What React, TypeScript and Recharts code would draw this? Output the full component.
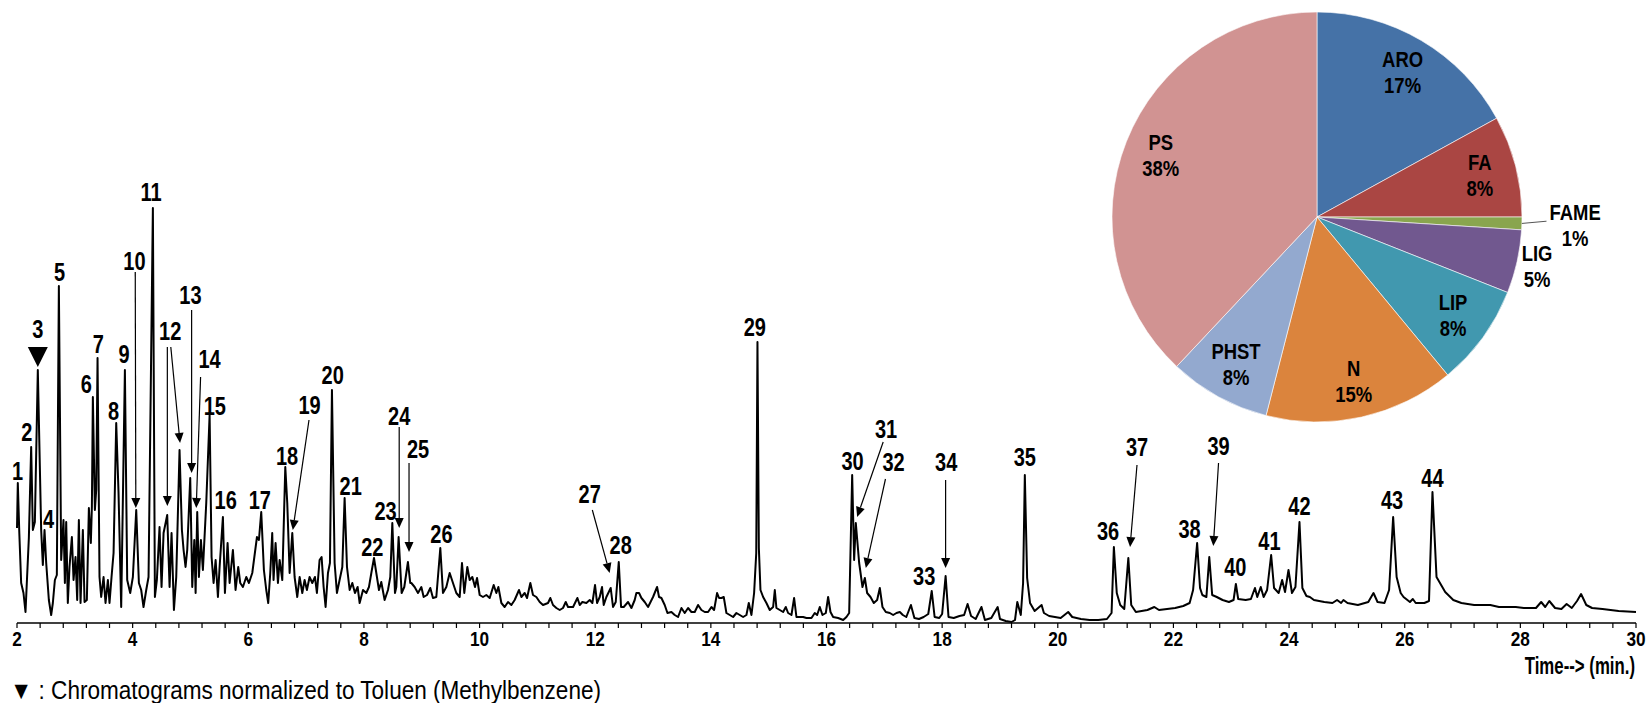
import React from 'react';
import { LineChart, Line, XAxis, YAxis, ReferenceLine, ReferenceDot, PieChart, Pie, Cell } from 'recharts';

const FONT = "'Liberation Sans', Arial, sans-serif";
const NARROW = 0.82;

// Chromatogram trace: [retention time (min), relative abundance]
const traceEarly: [number, number][] = [
  [2.0, 95], [2.014, 140], [2.04, 90], [2.072, 40], [2.112, 30], [2.147, 11], [2.205, 85], [2.245, 176],
  [2.274, 93], [2.309, 101], [2.36, 253], [2.418, 93], [2.447, 58], [2.476, 93], [2.505, 60], [2.551, 23],
  [2.591, 8], [2.62, 20], [2.655, 43], [2.689, 48], [2.724, 337], [2.764, 63], [2.804, 103], [2.828, 40],
  [2.851, 101], [2.879, 20], [2.908, 56], [2.949, 86], [2.978, 43], [3.012, 66], [3.041, 23], [3.07, 103],
  [3.099, 20], [3.139, 93], [3.168, 21], [3.208, 23], [3.243, 115], [3.277, 80], [3.295, 116], [3.312, 226],
  [3.347, 113], [3.37, 133], [3.393, 265], [3.427, 46], [3.456, 26], [3.497, 46], [3.531, 20], [3.572, 43],
  [3.6, 20], [3.635, 46], [3.67, 70], [3.716, 200], [3.756, 130], [3.802, 16], [3.866, 253], [3.906, 43],
  [3.958, 30], [4.004, 46], [4.062, 113], [4.108, 40], [4.148, 33], [4.188, 16], [4.235, 33], [4.275, 46],
  [4.35, 415], [4.385, 26], [4.419, 43], [4.465, 96], [4.5, 36], [4.535, 90], [4.598, 108], [4.639, 36],
  [4.673, 90], [4.714, 13], [4.754, 46], [4.811, 173], [4.852, 93], [4.881, 73], [4.915, 56], [4.944, 73],
  [4.996, 145], [5.031, 36], [5.066, 83], [5.089, 30], [5.117, 111], [5.146, 46], [5.181, 83], [5.215, 53],
  [5.273, 120], [5.331, 208], [5.365, 66], [5.4, 40], [5.435, 63], [5.475, 26], [5.504, 56], [5.561, 106],
  [5.596, 30], [5.642, 80], [5.677, 40], [5.734, 73], [5.78, 33], [5.826, 56], [5.861, 40], [5.907, 36],
  [5.965, 46], [6.011, 40], [6.069, 50], [6.15, 86], [6.184, 83], [6.224, 111], [6.27, 53], [6.311, 33],
  [6.345, 20], [6.38, 50], [6.414, 90], [6.437, 43], [6.472, 80], [6.513, 40], [6.542, 63], [6.588, 43],
  [6.64, 156], [6.674, 120], [6.715, 50], [6.761, 90], [6.801, 46], [6.847, 26], [6.888, 46], [6.934, 30],
  [6.974, 43], [7.014, 33], [7.06, 46], [7.107, 40], [7.153, 46], [7.187, 30], [7.233, 63], [7.268, 66],
  [7.303, 36], [7.337, 16], [7.378, 50], [7.412, 60], [7.447, 233], [7.493, 60], [7.533, 30], [7.579, 43],
  [7.626, 56], [7.666, 125], [7.707, 56], [7.753, 33], [7.799, 40], [7.845, 30], [7.891, 36], [7.926, 20],
  [7.984, 33], [8.041, 30], [8.087, 36], [8.128, 50], [8.174, 65], [8.214, 50], [8.26, 33], [8.3, 41],
  [8.358, 23], [8.416, 33], [8.456, 46], [8.491, 100], [8.537, 30], [8.56, 36], [8.6, 86], [8.652, 30],
  [8.698, 36], [8.761, 61], [8.801, 40],
];

const traceMid: [number, number][] = [
  [8.82, 40], [8.877, 36], [8.935, 30], [8.993, 36], [9.033, 26], [9.091, 28], [9.148, 35], [9.194, 25],
  [9.252, 26], [9.321, 75], [9.367, 30], [9.425, 36], [9.483, 50], [9.54, 40], [9.598, 30], [9.656, 26],
  [9.696, 60], [9.736, 30], [9.788, 56], [9.829, 43], [9.875, 46], [9.921, 36], [9.956, 45], [10.002, 28],
  [10.059, 26], [10.117, 28], [10.175, 25], [10.244, 38], [10.29, 30], [10.325, 36], [10.377, 20], [10.434, 16],
  [10.492, 21], [10.55, 18], [10.607, 23], [10.682, 33], [10.723, 26], [10.78, 30], [10.821, 25], [10.878, 40],
  [10.924, 28], [10.982, 26], [11.04, 21], [11.097, 18], [11.184, 20], [11.224, 25], [11.27, 18], [11.328, 15],
  [11.386, 13], [11.443, 15], [11.49, 21], [11.53, 16], [11.617, 16], [11.692, 25], [11.732, 18], [11.778, 21],
  [11.847, 20], [11.905, 23], [11.951, 20], [11.997, 38], [12.032, 20], [12.078, 26], [12.118, 36], [12.147, 18],
  [12.193, 26], [12.268, 35], [12.308, 16], [12.355, 21], [12.407, 61], [12.447, 16], [12.493, 16], [12.568, 21],
  [12.626, 15], [12.683, 23], [12.712, 30], [12.758, 30], [12.799, 25], [12.856, 21], [12.914, 16], [13.0, 26],
  [13.07, 36], [13.104, 26], [13.145, 25], [13.202, 18], [13.249, 10], [13.318, 11], [13.375, 8], [13.433, 6],
  [13.491, 15], [13.548, 10], [13.606, 15], [13.664, 11], [13.721, 11], [13.779, 18], [13.837, 13], [13.894, 11],
  [13.952, 11], [14.01, 16], [14.056, 13], [14.108, 30], [14.142, 25], [14.183, 25], [14.223, 26], [14.269, 10],
  [14.327, 8], [14.385, 6], [14.442, 10], [14.5, 8], [14.558, 6], [14.615, 8], [14.656, 20], [14.702, 8],
  [14.748, 30], [14.785, 70], [14.806, 281], [14.83, 75], [14.858, 33], [14.904, 26], [14.961, 20], [15.019, 13],
  [15.077, 16], [15.106, 33], [15.134, 15], [15.192, 13], [15.25, 11], [15.296, 16], [15.336, 10], [15.394, 8],
  [15.44, 25], [15.48, 6], [15.538, 6], [15.596, 6], [15.653, 5], [15.74, 5], [15.797, 10], [15.838, 8],
  [15.884, 16], [15.93, 8], [15.988, 10], [16.028, 26], [16.069, 11], [16.115, 6], [16.201, 5], [16.288, 3],
  [16.345, 6], [16.392, 10], [16.444, 148], [16.478, 63], [16.507, 100], [16.565, 60], [16.622, 36], [16.663, 45],
  [16.703, 30], [16.761, 26], [16.818, 20], [16.876, 23], [16.922, 35], [16.968, 16], [17.026, 11], [17.095, 10],
  [17.153, 8], [17.21, 10], [17.268, 11],
];

const traceLate: [number, number][] = [
  [17.32, 8], [17.38, 6], [17.46, 18], [17.52, 5], [17.6, 4], [17.68, 6], [17.76, 9], [17.82, 32],
  [17.87, 6], [17.95, 5], [18.0, 9], [18.06, 47], [18.11, 6], [18.2, 5], [18.3, 7], [18.38, 8],
  [18.44, 19], [18.5, 7], [18.58, 4], [18.68, 16], [18.74, 3], [18.85, 5], [18.96, 16], [19.0, 4],
  [19.1, 2], [19.2, 1], [19.26, 3], [19.3, 21], [19.36, 8], [19.4, 40], [19.43, 148], [19.47, 45],
  [19.52, 20], [19.6, 12], [19.72, 18], [19.76, 10], [19.85, 7], [19.95, 6], [20.05, 5], [20.18, 11],
  [20.25, 6], [20.4, 4], [20.55, 3], [20.7, 3], [20.85, 4], [20.93, 10], [20.97, 76], [21.02, 30],
  [21.08, 18], [21.15, 14], [21.22, 65], [21.27, 18], [21.35, 11], [21.45, 12], [21.55, 13], [21.67, 16],
  [21.75, 13], [21.89, 14], [22.03, 15], [22.17, 17], [22.28, 20], [22.34, 33], [22.41, 80], [22.46, 35],
  [22.5, 28], [22.57, 26], [22.62, 66], [22.67, 28], [22.75, 26], [22.85, 23], [22.96, 21], [23.04, 23],
  [23.08, 39], [23.12, 24], [23.25, 23], [23.34, 24], [23.41, 35], [23.45, 26], [23.51, 36], [23.56, 26],
  [23.62, 33], [23.69, 68], [23.74, 35], [23.82, 30], [23.88, 43], [23.93, 31], [23.99, 53], [24.05, 30],
  [24.11, 36], [24.18, 101], [24.23, 35], [24.3, 27], [24.36, 26], [24.43, 23], [24.61, 21], [24.75, 20],
  [24.83, 23], [24.9, 20], [24.94, 23], [25.01, 20], [25.19, 18], [25.37, 21], [25.46, 30], [25.53, 21],
  [25.65, 20], [25.73, 33], [25.8, 106], [25.86, 46], [25.93, 30], [25.98, 26], [26.09, 21], [26.14, 24],
  [26.19, 20], [26.34, 20], [26.42, 22], [26.48, 131], [26.55, 46], [26.61, 40], [26.7, 31], [26.84, 23],
  [26.98, 20], [27.2, 18], [27.48, 18], [27.63, 16], [27.92, 16], [28.06, 15], [28.27, 15], [28.36, 21],
  [28.43, 16], [28.5, 22], [28.6, 15], [28.71, 14], [28.8, 19], [28.89, 15], [28.98, 22], [29.05, 29],
  [29.14, 18], [29.24, 15], [29.42, 14], [29.7, 12], [30.0, 11],
];

// Major axis tick labels (min)
const majorTicks = [2, 4, 6, 8, 10, 12, 14, 16, 18, 20, 22, 24, 26, 28, 30];
const minorPerMajor = 5;

// Peak number labels: [label, time, height of label centre]
const peakLabels: [string, number, number][] = [
  ['1', 2.01, 151], ['2', 2.17, 190], ['3', 2.36, 293], ['4', 2.545, 103], ['5', 2.735, 350],
  ['6', 3.2, 238], ['7', 3.405, 278], ['8', 3.67, 211], ['9', 3.85, 268], ['10', 4.03, 361],
  ['11', 4.32, 430], ['12', 4.65, 291], ['13', 5.0, 327], ['14', 5.33, 263], ['15', 5.42, 216],
  ['16', 5.61, 122], ['17', 6.2, 122], ['18', 6.67, 166], ['19', 7.06, 217], ['20', 7.46, 247],
  ['21', 7.77, 136], ['22', 8.145, 75], ['23', 8.375, 111], ['24', 8.61, 206], ['25', 8.935, 173],
  ['26', 9.34, 88], ['27', 11.905, 128], ['28', 12.44, 77], ['29', 14.76, 295], ['30', 16.45, 161],
  ['31', 17.03, 193], ['32', 17.16, 160], ['33', 17.69, 46], ['34', 18.07, 160], ['35', 19.43, 165],
  ['36', 20.87, 91], ['37', 21.37, 175], ['38', 22.28, 93], ['39', 22.78, 176], ['40', 23.07, 55],
  ['41', 23.66, 81], ['42', 24.18, 116], ['43', 25.78, 122], ['44', 26.48, 144],
];

// Arrows from label to peak: [t1, h1, t2, h2]
const peakArrows: [number, number, number, number][] = [
  [4.045, 351, 4.055, 115], [4.6, 276, 4.6, 117], [4.66, 276, 4.82, 180], [5.02, 313, 5.02, 150],
  [5.175, 246, 5.1, 115], [7.05, 203, 6.77, 93], [8.61, 196, 8.61, 95], [8.78, 160, 8.78, 71],
  [11.95, 113, 12.25, 50], [16.98, 181, 16.53, 106], [17.02, 144, 16.68, 55], [18.06, 143, 18.06, 55],
  [21.37, 158, 21.25, 76], [22.78, 160, 22.69, 77],
];

// Toluene reference marker (peak 3): [time, height]
const tolueneMarker: [number, number] = [2.36, 266];

// Pie inset
const pieNames = ['ARO', 'FA', 'FAME', 'LIG', 'LIP', 'N', 'PHST', 'PS'];
const pieShares = [17, 8, 1, 5, 8, 15, 8, 38];
const pieColors = ['#4572A7', '#AA4643', '#89A54E', '#71588F', '#4198AF', '#DB843D', '#93A9CF', '#D19392'];

const footnote = '▼ : Chromatograms normalized to Toluen (Methylbenzene)';
const xAxisTitle = 'Time--> (min.)';

const chromData = [...traceEarly, ...traceMid, ...traceLate].map(([t, h]) => ({ t, h }));
const pieData = pieNames.map((name, i) => ({ name, value: pieShares[i] }));

const xTicks: number[] = [];
majorTicks.forEach((m, i) => {
  if (i === 0) { xTicks.push(m); return; }
  const prev = majorTicks[i - 1];
  for (let k = 1; k <= minorPerMajor; k++) {
    xTicks.push(Math.round((prev + ((m - prev) * k) / minorPerMajor) * 1000) / 1000);
  }
});

const NText = ({ x, y, size, bold = true, anchor = 'middle', sx = NARROW, baseline = 'central', children }: any) => (
  <text
    transform={`translate(${x},${y}) scale(${sx},1)`}
    x={0}
    y={0}
    textAnchor={anchor}
    dominantBaseline={baseline}
    style={{ fontFamily: FONT, fontSize: size, fontWeight: bold ? 700 : 400, fill: '#000' }}
  >
    {children}
  </text>
);

const AxisTick = (p: any) => {
  const v = p.payload?.value;
  const isMajor = majorTicks.some((m) => Math.abs(m - v) < 1e-6);
  if (!isMajor) return null;
  return (
    <NText x={p.x} y={p.y + 9} size={21}>{String(Math.round(v))}</NText>
  );
};

const arrowShape = (p: any) => {
  const { x1, y1, x2, y2 } = p;
  const ang = Math.atan2(y2 - y1, x2 - x1);
  const L = 10;
  const hw = 4.5;
  const bx = x2 - L * Math.cos(ang);
  const by = y2 - L * Math.sin(ang);
  const px = -Math.sin(ang) * hw;
  const py = Math.cos(ang) * hw;
  return (
    <g>
      <line x1={x1} y1={y1} x2={bx} y2={by} stroke="#000" strokeWidth={1.2} />
      <polygon points={`${x2},${y2} ${bx + px},${by + py} ${bx - px},${by - py}`} fill="#000" />
    </g>
  );
};

const renderPieLabel = (p: any) => {
  const RAD = Math.PI / 180;
  const { cx, cy, midAngle, outerRadius, index } = p;
  const v = pieShares[index];
  const k = v < 3 ? 1.26 : v <= 5 ? 1.1 : 0.82;
  const c = Math.cos(-midAngle * RAD);
  const s = Math.sin(-midAngle * RAD);
  const x = cx + outerRadius * k * c;
  const y = cy + outerRadius * k * s;
  return (
    <g>
      {v < 3 ? (
        <line
          x1={cx + outerRadius * c}
          y1={cy + outerRadius * s}
          x2={cx + outerRadius * 1.12 * c}
          y2={cy + outerRadius * 1.12 * s - 3}
          stroke="#555"
          strokeWidth={1}
        />
      ) : null}
      <NText x={x} y={y - 13} size={22} sx={0.84}>{pieNames[index]}</NText>
      <NText x={x} y={y + 13} size={22} sx={0.84}>{`${v}%`}</NText>
    </g>
  );
};

export default function App() {
  return (
    <div style={{ position: 'absolute', left: 0, top: 0, width: 1649, height: 703, background: '#fff', overflow: 'hidden' }}>
      <LineChart width={1649} height={703} data={chromData} margin={{ top: 173, right: 13, bottom: 50, left: 17 }}>
        <XAxis
          dataKey="t"
          type="number"
          domain={[2, 30]}
          ticks={xTicks}
          interval={0}
          height={30}
          tickSize={5}
          tickMargin={2}
          axisLine={{ stroke: '#000', strokeWidth: 1.5 }}
          tickLine={{ stroke: '#000', strokeWidth: 1.2 }}
          tick={<AxisTick />}
        />
        <YAxis hide type="number" domain={[0, 450]} />
        <Line
          dataKey="h"
          type="linear"
          stroke="#000"
          strokeWidth={2}
          strokeLinejoin="round"
          dot={false}
          activeDot={false}
          isAnimationActive={false}
        />
        {peakArrows.map(([t1, h1, t2, h2], i) => (
          <ReferenceLine
            key={`a${i}`}
            segment={[{ x: t1, y: h1 }, { x: t2, y: h2 }]}
            ifOverflow="visible"
            shape={arrowShape}
          />
        ))}
        <ReferenceDot
          x={tolueneMarker[0]}
          y={tolueneMarker[1]}
          r={10}
          ifOverflow="visible"
          shape={(p: any) => (
            <polygon points={`${p.cx - 10},${p.cy - 10} ${p.cx + 10},${p.cy - 10} ${p.cx},${p.cy + 10}`} fill="#000" />
          )}
        />
        {peakLabels.map(([n, t, h]) => (
          <ReferenceDot
            key={`l${n}`}
            x={t}
            y={h}
            r={1}
            ifOverflow="visible"
            shape={(p: any) => <NText x={p.cx} y={p.cy} size={25} sx={0.8}>{n}</NText>}
          />
        ))}
      </LineChart>
      <div style={{ position: 'absolute', left: 1080, top: 0, width: 569, height: 440 }}>
        <PieChart width={569} height={440} margin={{ top: 0, right: 0, bottom: 0, left: 0 }}>
          <Pie
            data={pieData}
            dataKey="value"
            nameKey="name"
            cx={237}
            cy={217}
            outerRadius={205}
            startAngle={90}
            endAngle={-270}
            stroke="#fff"
            strokeWidth={0.6}
            label={renderPieLabel}
            labelLine={false}
            isAnimationActive={false}
          >
            {pieData.map((d, i) => (
              <Cell key={d.name} fill={pieColors[i]} />
            ))}
          </Pie>
        </PieChart>
      </div>
      <svg width={1649} height={703} style={{ position: 'absolute', left: 0, top: 0, pointerEvents: 'none' }}>
        <NText x={1635} y={665} size={24} sx={0.7} anchor="end">{xAxisTitle}</NText>
        <text
          x={10}
          y={699}
          textLength={591}
          lengthAdjust="spacingAndGlyphs"
          style={{ fontFamily: FONT, fontSize: 25, fontWeight: 400, fill: '#000' }}
        >
          {footnote}
        </text>
      </svg>
    </div>
  );
}
